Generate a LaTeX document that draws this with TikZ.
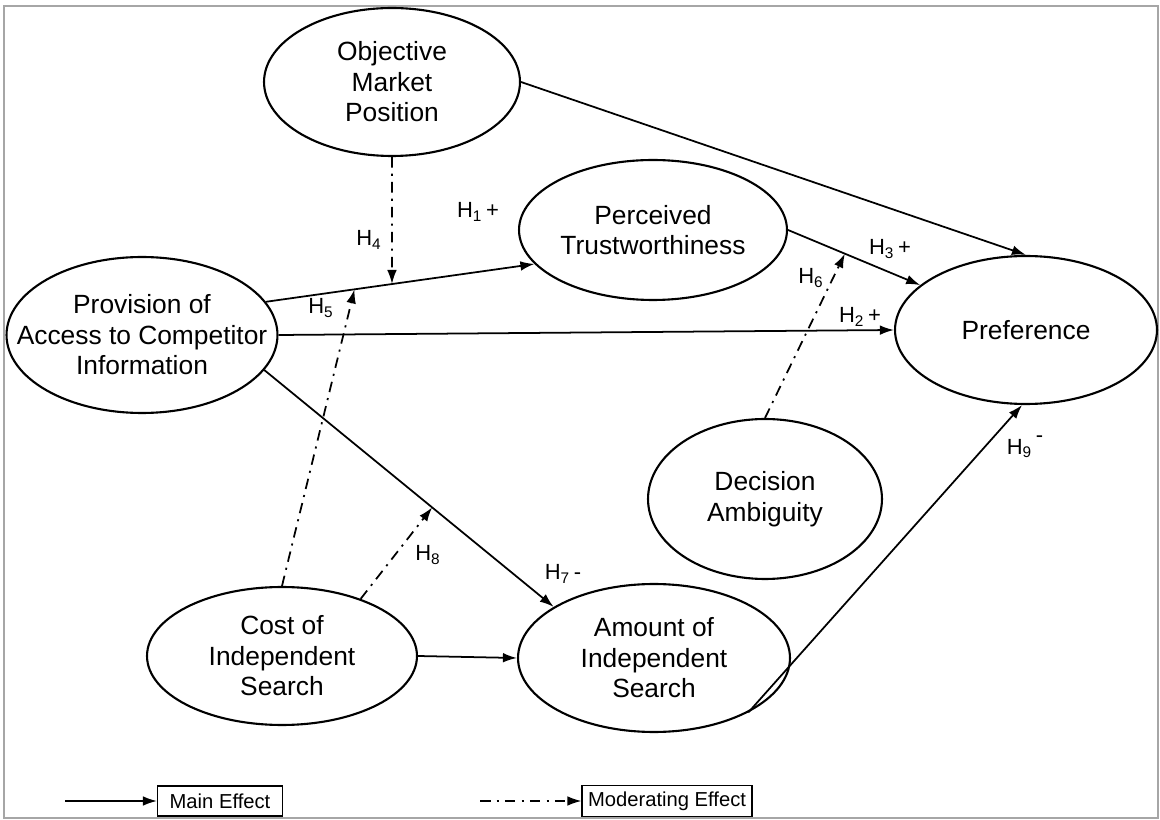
\documentclass[tikz,border=0pt]{standalone}
\usepackage{fontspec}
\setmainfont{Liberation Sans}
\usetikzlibrary{arrows.meta,shapes.geometric}
\begin{document}
\begin{tikzpicture}[x=0.02cm, y=-0.02cm,
  construct/.style={draw, ellipse, line width=1.2pt, inner sep=0pt},
  construct text/.style={align=center, inner sep=0pt, font=\fontsize{15}{17.4}\selectfont},
  main/.style={line width=1pt, -{Latex[length=8pt,width=5.5pt]}},
  moderating/.style={line width=1pt, dash pattern=on 6pt off 3.5pt on 1.2pt off 3.5pt, -{Latex[length=8pt,width=5.5pt]}},
  hyp/.style={font=\fontsize{12.5}{14}\selectfont, inner sep=0pt},
  legendbox/.style={draw, line width=0.6pt, minimum height=0.6cm, font=\fontsize{11.5}{13}\selectfont}]
\useasboundingbox (0,0) rectangle (1160,820);
\draw[gray!70, line width=0.6pt] (4,6) rectangle (1158,818);
\node[construct, minimum width=5.12cm, minimum height=2.96cm, label={[construct text]center:{Objective\\Market\\Position}}] (omp) at (392,82) {};
\node[construct, minimum width=5.36cm, minimum height=2.80cm, label={[construct text]center:{Perceived\\Trustworthiness}}] (pt) at (653,230) {};
\node[construct, minimum width=5.42cm, minimum height=3.12cm, label={[construct text]center:{Provision of\\Access to Competitor\\Information}}] (pac) at (142,335) {};
\node[construct, minimum width=5.24cm, minimum height=2.96cm, label={[construct text]center:{Preference}}] (pref) at (1026,330) {};
\node[construct, minimum width=4.68cm, minimum height=3.20cm, label={[construct text]center:{Decision\\Ambiguity}}] (da) at (765,499) {};
\node[construct, minimum width=5.40cm, minimum height=2.76cm, label={[construct text]center:{Cost of\\Independent\\Search}}] (cis) at (282,656) {};
\node[construct, minimum width=5.44cm, minimum height=2.96cm, label={[construct text]center:{Amount of\\Independent\\Search}}] (ais) at (654,658) {};
\draw[main] (omp.east) -- (pref.north);
\draw[main] (pac.15) -- coordinate[pos=0.33] (m5) (pt.196);
\coordinate (m4) at (intersection of pac.15--pt.196 and omp.south--omp.north);
\draw[main] (pac.east) -- (pref.west);
\draw[main] (pt.east) -- coordinate[pos=0.43] (m6) (pref.157);
\draw[main] (pac.-16) -- coordinate[pos=0.58] (m8) (ais.153);
\draw[main] (cis.east) -- (ais.west);
\draw[main] (ais.-30) -- (pref.-93);
\draw[moderating] (omp.south) -- (m4);
\draw[moderating] (cis.north) -- (m5);
\draw[moderating] (da.north) -- (m6);
\draw[moderating] (cis.36) -- (m8);
\node[hyp] (h1) at (478,212) {H\textsubscript{1}\,+};
\node[hyp] (h4) at (369,240) {H\textsubscript{4}};
\node[hyp] (h5) at (321,308) {H\textsubscript{5}};
\node[hyp] (h3) at (890,249) {H\textsubscript{3}\,+};
\node[hyp] (h6) at (811,278) {H\textsubscript{6}};
\node[hyp] (h2) at (860,317) {H\textsubscript{2}\,+};
\node[hyp] (h7) at (563,574) {H\textsubscript{7}\,-};
\node[hyp] (h8) at (428,555) {H\textsubscript{8}};
\node[hyp] (h9) at (1025,447) {H\textsubscript{9}\,\raisebox{1ex}{-}};
\node[legendbox, minimum width=2.5cm] (mainbox) at (220,801) {Main Effect};
\node[legendbox, minimum width=3.4cm] (modbox) at (667,801) {Moderating Effect};
\coordinate (l1) at (65,801);
\coordinate (l2) at (480,801);
\draw[main] (l1) -- (mainbox.west);
\draw[moderating] (l2) -- (modbox.west);
\end{tikzpicture}
\end{document}
